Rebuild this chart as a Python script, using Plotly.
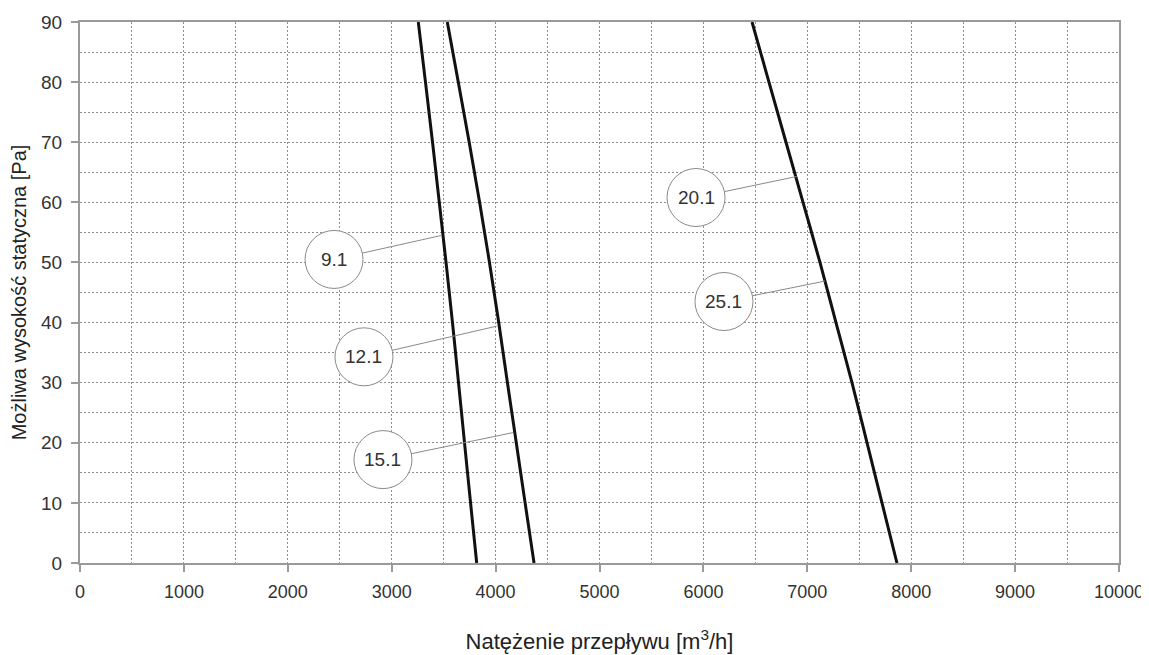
import plotly.graph_objects as go

# Curve data (static pressure [Pa] vs flow [m3/h])
y_levels = [90, 80, 70, 60, 50, 40, 30, 20, 10, 0]
curve_a_x = [3256, 3325, 3393, 3458, 3523, 3585, 3643, 3701, 3759, 3818]
curve_b_x = [3535, 3641, 3746, 3846, 3941, 4030, 4114, 4199, 4284, 4370]
curve_c_x = [6468, 6631, 6795, 6959, 7122, 7276, 7430, 7575, 7719, 7863]

# Callout labels
label_text = ["9.1", "12.1", "15.1", "20.1", "25.1"]
label_x = [2445, 2733, 2916, 5929, 6198]
label_y = [50.5, 34.3, 17.2, 60.8, 43.5]
leader_x = [3481, 4010, 4170, 6898, 7170]
leader_y = [54.5, 39.4, 21.7, 64.3, 46.9]

FONT = "Liberation Sans, Arial, sans-serif"

fig = go.Figure()
for cx in (curve_a_x, curve_b_x, curve_c_x):
    fig.add_trace(go.Scatter(x=cx, y=y_levels, mode="lines",
                             line=dict(color="#111111", width=3, shape="spline", smoothing=1),
                             showlegend=False, hoverinfo="skip"))

shapes = []
for lx, ly, ex, ey in zip(label_x, label_y, leader_x, leader_y):
    shapes.append(dict(type="line", xref="x", yref="y", x0=lx, y0=ly, x1=ex, y1=ey,
                       line=dict(color="#8a8a8a", width=1), layer="above"))
for lx, ly in zip(label_x, label_y):
    shapes.append(dict(type="circle", xref="x", yref="y", xsizemode="pixel", ysizemode="pixel",
                       xanchor=lx, yanchor=ly, x0=-29, x1=29, y0=-29, y1=29,
                       fillcolor="white", line=dict(color="#8a8a8a", width=1), layer="above"))

annotations = [dict(x=lx, y=ly, xref="x", yref="y", text=t, showarrow=False,
                    font=dict(family=FONT, size=19, color="#333333"))
               for t, lx, ly in zip(label_text, label_x, label_y)]

fig.update_layout(
    width=1141, height=647,
    margin=dict(l=72, r=30, t=14, b=92),
    plot_bgcolor="white", paper_bgcolor="white",
    font=dict(family=FONT, size=19, color="#333333"),
    shapes=shapes, annotations=annotations,
    showlegend=False,
)
fig.update_xaxes(
    range=[0, 10000], dtick=1000, tick0=0, tickformat="d",
    automargin=False, ticklabeloverflow="allow",
    showline=True, linecolor="#9a9a9a", linewidth=2, mirror=True,
    ticks="outside", ticklen=7, tickcolor="#9a9a9a", tickwidth=1.5,
    ticklabelstandoff=4,
    showgrid=True, gridcolor="#8f8f8f", gridwidth=1, griddash="2px,2px",
    minor=dict(dtick=500, showgrid=True, gridcolor="#8f8f8f", gridwidth=1, griddash="2px,2px", ticks=""),
    zeroline=False,
    tickfont=dict(size=18, color="#333333"),
    title=dict(text="Natężenie przepływu [m<sup>3</sup>/h]", font=dict(size=22, color="#222222"), standoff=33),
)
fig.update_yaxes(
    range=[0, 90], dtick=10, tick0=0,
    automargin=False,
    showline=True, linecolor="#9a9a9a", linewidth=2, mirror=True,
    ticks="outside", ticklen=7, tickcolor="#9a9a9a", tickwidth=1.5,
    ticklabelstandoff=5,
    showgrid=True, gridcolor="#8f8f8f", gridwidth=1, griddash="2px,2px",
    minor=dict(dtick=5, showgrid=True, gridcolor="#8f8f8f", gridwidth=1, griddash="2px,2px", ticks=""),
    zeroline=False,
    tickfont=dict(size=19, color="#333333"),
    title=dict(text="Możliwa wysokość statyczna [Pa]", font=dict(size=20, color="#222222"), standoff=10),
)

fig.write_html("out.html")
